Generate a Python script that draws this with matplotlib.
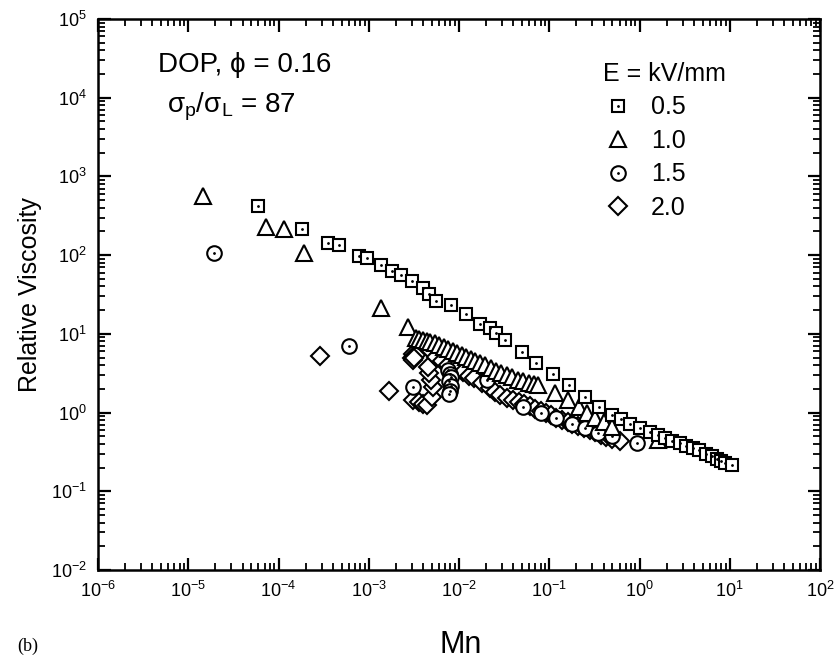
import matplotlib
matplotlib.use("Agg")
import matplotlib.pyplot as plt
from matplotlib.lines import Line2D
from matplotlib.legend_handler import HandlerTuple
from matplotlib.ticker import LogLocator, FixedLocator

plt.rcParams['font.family'] = ['Liberation Sans', 'DejaVu Sans']
plt.rcParams['mathtext.fontset'] = 'custom'
plt.rcParams['mathtext.rm'] = 'Liberation Sans'
plt.rcParams['mathtext.it'] = 'Liberation Sans:italic'
plt.rcParams['mathtext.bf'] = 'Liberation Sans:bold'

# E = 0.5 kV/mm (squares)
mn_05 = [5.9e-5, 1.8e-4, 3.5e-4, 4.7e-4, 7.7e-4, 9.5e-4, 1.36e-3, 1.8e-3, 2.26e-3,
         3.0e-3, 4.0e-3, 4.7e-3, 5.6e-3, 8.1e-3, 1.18e-2, 1.7e-2, 2.18e-2, 2.6e-2,
         3.2e-2, 4.95e-2, 7.1e-2, 0.111, 0.166, 0.249, 0.36, 0.49, 0.62, 0.79,
         1.01, 1.31, 1.6, 1.9, 2.3, 2.8, 3.3, 3.9, 4.6, 5.4, 6.3, 7.2, 8.0, 8.8, 10.7]
vis_05 = [420, 215, 141, 133, 97, 93, 75, 63, 56,
          47, 38, 32, 26, 23, 18, 13.5, 11.7, 10.1,
          8.3, 5.9, 4.3, 3.08, 2.24, 1.59, 1.16, 0.93, 0.82, 0.71,
          0.63, 0.57, 0.52, 0.48, 0.44, 0.41, 0.38, 0.35, 0.33, 0.30, 0.28, 0.26, 0.245, 0.23, 0.215]

# E = 1.0 kV/mm (triangles)
mn_10 = [1.45e-5, 7.2e-5, 1.15e-4, 1.9e-4, 1.38e-3, 2.7e-3,
         3.3e-3, 3.6e-3, 4.0e-3, 4.4e-3, 4.8e-3, 5.4e-3, 6.0e-3, 6.8e-3, 7.6e-3,
         8.5e-3, 9.5e-3, 1.07e-2, 1.2e-2, 1.35e-2, 1.51e-2, 1.7e-2, 1.95e-2,
         2.24e-2, 2.57e-2, 2.95e-2, 3.39e-2, 3.89e-2, 4.47e-2, 5.13e-2, 5.89e-2,
         6.76e-2, 0.0757, 0.116, 0.163, 0.215, 0.26, 0.32, 0.4, 0.5, 1.61]
vis_10 = [560, 225, 213, 107, 21, 12.3,
          8.9, 8.6, 8.3, 8.0, 7.8, 7.6, 7.3, 6.9, 6.5,
          6.1, 5.7, 5.4, 5.1, 4.8, 4.5, 4.3, 4.0,
          3.7, 3.4, 3.2, 3.0, 2.8, 2.6, 2.5, 2.4,
          2.3, 2.23, 1.75, 1.44, 1.19, 0.98, 0.85, 0.75, 0.66, 0.45]

# E = 1.5 kV/mm (circles)
mn_15 = [1.94e-5, 6.1e-4, 3.07e-3, 7.6e-3, 7.9e-3, 8.1e-3, 7.8e-3, 8.2e-3, 8.0e-3,
         7.7e-3, 2.05e-2, 5.1e-2, 8.0e-2, 0.12, 0.18, 0.25, 0.35, 0.5, 0.93]
vis_15 = [107, 7.0, 2.09, 3.5, 3.1, 2.8, 2.5, 2.2, 1.9,
          1.7, 2.57, 1.19, 1.0, 0.85, 0.72, 0.63, 0.55, 0.5, 0.41]

# E = 2.0 kV/mm (diamonds)
mn_20 = [2.9e-4, 1.66e-3,
         3.0e-3, 3.1e-3, 3.2e-3, 3.1e-3, 3.3e-3, 3.2e-3,
         3.1e-3, 3.6e-3, 4.0e-3, 4.4e-3, 5.0e-3, 5.2e-3, 4.9e-3, 4.6e-3, 4.5e-3,
         4.0e-3, 4.8e-3, 5.6e-3, 6.5e-3, 7.6e-3, 9.1e-3, 1.1e-2, 1.3e-2, 1.45e-2,
         1.8e-2, 2.2e-2, 2.5e-2, 2.85e-2, 3.4e-2, 4.0e-2, 4.6e-2, 5.3e-2, 6.1e-2,
         7.0e-2, 8.0e-2, 9.2e-2, 0.105, 0.12, 0.14, 0.16, 0.18, 0.21, 0.24, 0.28,
         0.32, 0.37, 0.43, 0.5, 0.61]
vis_20 = [5.2, 1.9,
          5.0, 5.6, 5.2, 4.6, 5.4, 4.9,
          1.44, 1.35, 1.3, 1.25, 1.59, 2.13, 2.6, 3.16, 3.8,
          7.6, 6.2, 5.1, 4.5, 4.0, 3.65, 3.3, 2.95, 2.72,
          2.35, 2.04, 1.85, 1.67, 1.55, 1.44, 1.35, 1.27, 1.2,
          1.12, 1.05, 0.98, 0.92, 0.86, 0.8, 0.76, 0.72, 0.67, 0.63, 0.6,
          0.56, 0.52, 0.49, 0.46, 0.43]

xticks = [1e-6, 1e-5, 1e-4, 1e-3, 1e-2, 1e-1, 1e0, 1e1, 1e2]
yticks = [1e-2, 1e-1, 1e0, 1e1, 1e2, 1e3, 1e4, 1e5]

fig = plt.figure(figsize=(8.39, 6.61), dpi=100)
ax = fig.add_axes([0.1168, 0.1377, 0.8606, 0.8336])

ms = dict(linestyle='none', mfc='white', mec='black', mew=1.5)
ax.plot(mn_20, vis_20, marker='D', ms=9.5, **ms)
ax.plot(mn_15, vis_15, marker='o', ms=10.5, **ms)
ax.plot(mn_15, vis_15, marker='.', ms=2, color='black', linestyle='none')
ax.plot(mn_10, vis_10, marker='^', ms=12, **ms)
ax.plot(mn_05, vis_05, marker='s', ms=9, **ms)
ax.plot(mn_05, vis_05, marker='.', ms=2, color='black', linestyle='none')

ax.set_xscale('log')
ax.set_yscale('log')
ax.set_xlim(1e-6, 1e2)
ax.set_ylim(1e-2, 1e5)
ax.xaxis.set_major_locator(FixedLocator(xticks))
ax.yaxis.set_major_locator(FixedLocator(yticks))
ax.xaxis.set_minor_locator(LogLocator(base=10, subs=range(2, 10), numticks=20))
ax.yaxis.set_minor_locator(LogLocator(base=10, subs=range(2, 10), numticks=20))
ax.tick_params(which='both', direction='in', top=True, right=True, labelsize=13)
ax.tick_params(which='major', length=9, width=1.6, pad=8)
ax.tick_params(which='minor', length=5, width=1.3)
for s in ax.spines.values():
    s.set_linewidth(1.8)

fig.text(0.036, 0.554, 'Relative Viscosity', rotation=90, ha='center', va='center', fontsize=18)
fig.text(0.549, 0.024, 'Mn', ha='center', va='center', fontsize=22)
fig.text(0.033, 0.022, '(b)', ha='center', va='center', fontsize=13, family='Liberation Serif')

ax.text(0.083, 0.9165, 'DOP, \u03d5 = 0.16', transform=ax.transAxes, fontsize=20,
        va='center', family=['Liberation Sans', 'DejaVu Sans'])
ax.text(0.0956, 0.84, r'$\mathrm{\sigma_{p}/\sigma_{L}}$ = 87', transform=ax.transAxes,
        fontsize=20, va='center')

dot = Line2D([], [], marker='.', ms=2, color='black', linestyle='none')
h05 = (Line2D([], [], marker='s', ms=9, **ms), dot)
h10 = Line2D([], [], marker='^', ms=12, **ms)
h15 = (Line2D([], [], marker='o', ms=10.5, **ms), dot)
h20 = Line2D([], [], marker='D', ms=9.5, **ms)
leg = ax.legend([h05, h10, h15, h20], ['0.5', '1.0', '1.5', '2.0'],
                handler_map={tuple: HandlerTuple(ndivide=1, pad=0)},
                title='E = kV/mm', title_fontsize=18, fontsize=18, frameon=False,
                loc='upper left', bbox_to_anchor=(0.682, 0.945), alignment='left',
                handlelength=1.2, handletextpad=0.72, labelspacing=0.38, borderpad=0)

fig.savefig('out.png', dpi=100)
